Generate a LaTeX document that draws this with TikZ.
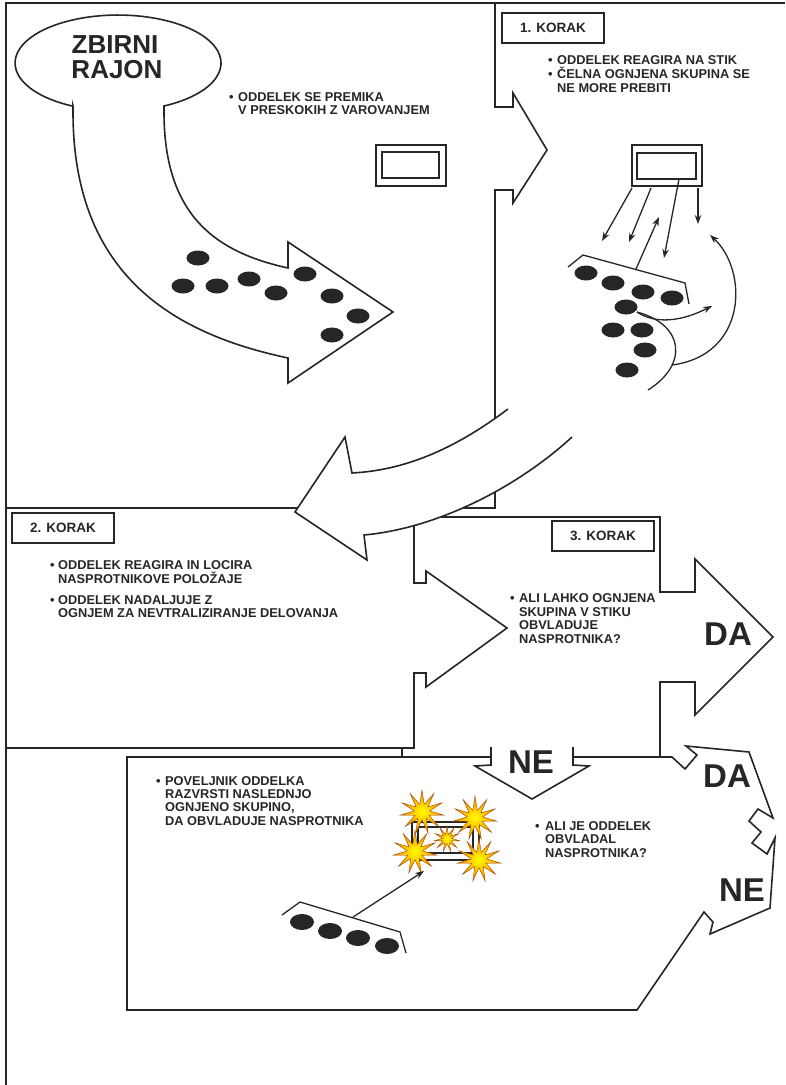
\documentclass[tikz,border=0pt]{standalone}
\usepackage{fontspec}
\setmainfont{Liberation Sans}
\usetikzlibrary{shapes.geometric,arrows.meta}
\definecolor{ink}{HTML}{262626}
\begin{document}
\begin{tikzpicture}[x=1pt,y=-1pt,
  ol/.style={draw=ink, line width=1.6pt, line join=miter},
  tl/.style={font=\bfseries\fontsize{12.8}{14}\selectfont, text=ink, anchor=base west, inner sep=0pt},
  big/.style={font=\bfseries\fontsize{33}{33}\selectfont, text=ink, inner sep=0pt},
  title/.style={font=\bfseries\fontsize{26}{26}\selectfont, text=ink, inner sep=0pt},
  korak/.style={draw=ink, line width=1.8pt, minimum width=102pt, minimum height=30pt, inner sep=0pt, font=\bfseries\fontsize{13.5}{14}\selectfont, text=ink},
  dot/.style={ellipse, fill=ink, minimum width=23pt, minimum height=15pt, inner sep=0pt},
  tgt/.style={draw=ink, line width=2pt, inner sep=0pt},
  arr/.style={draw=ink, line width=1.3pt, -{Stealth[length=9pt,width=6.5pt]}},
  crv/.style={draw=ink, line width=1.3pt},
  boom/.style={star, star points=11, star point ratio=2.8, inner sep=0pt, inner color=yellow, outer color=orange, draw=orange!60!black, line width=0.4pt}
]
\useasboundingbox (0,0) rectangle (785,1085);
\fill[white] (0,0) rectangle (785,1085);

% outer frame
\draw[ol] (6,1085) -- (6,3) -- (785,3);
% panel 1 boundary with arrow into step 1
\draw[ol] (495,3) -- (495,107) -- (513,107) -- (513,93) -- (547,150) -- (513,203) -- (513,190) -- (495,190) -- (495,508) -- (6,508);
% panel 2 / panel 3 boundaries
\draw[ol] (6,748) -- (414,748) -- (414,673) -- (426,673) -- (426,687) -- (507,628) -- (426,571) -- (426,583) -- (414,583) -- (414,517) -- (660,517) -- (660,592) -- (695,592) -- (695,559) -- (773,637) -- (695,715) -- (695,682) -- (660,682) -- (660,757);
\draw[ol] (402,748) -- (402,757);
% NE arrow (down)
\draw[ol] (491,747) -- (491,765) -- (475,766) -- (532,799) -- (589,766) -- (573,765) -- (573,747);
% panel 4 outline
\draw[ol] (491,757) -- (127,757) -- (127,1010) -- (637,1010) -- (704,912) -- (713,922) -- (710,934) -- (770,908) -- (775,838) -- (767,854) -- (752,843) -- (761,832) -- (749,821) -- (758,809) -- (773,818) -- (749,752) -- (686,746) -- (697,755) -- (685,769) -- (672,757) -- (573,757);

% big curved arrow from ZBIRNI RAJON
\draw[ol, fill=white] (73,106) -- (73,112) .. controls (73,280) and (180,335) .. (288,358) -- (288,383) -- (393,312) -- (288,242) -- (288,268) .. controls (215,252) and (164,215) .. (164,112) -- (164,106) arc[start angle=63.5, end angle=-244.1, x radius=103, y radius=48] -- cycle;
\node[title] (zb1) at (115,45) {ZBIRNI};
\node[title] (zb2) at (117,70) {RAJON};

% curved arrow from step 1 to step 2
\fill[white] (508,409) .. controls (460,445) and (410,470) .. (352,473) -- (345,437) -- (295,512) -- (367,560) -- (364,535) .. controls (440,528) and (520,485) .. (572,437) -- cycle;
\draw[ol] (508,409) .. controls (460,445) and (410,470) .. (352,473) -- (345,437) -- (295,512) -- (367,560) -- (364,535) .. controls (440,528) and (520,485) .. (572,437);

% panel 1 dots
\foreach \n/\x/\y in {1/198/258,2/183/286,3/217/286,4/249/279,5/276/293,6/305/274,7/332/296,8/358/316,9/332/335}
  \node[dot] (pa\n) at (\x,\y) {};
% panel 1 target
\node[tgt, minimum width=70pt, minimum height=41pt] (r1o) at (411,165.5) {};
\node[tgt, minimum width=57pt, minimum height=26pt] (r1i) at (410.5,165) {};
% panel 1 text
\node[tl] (b1) at (229,101.5) {•};
\node[tl] (t1a) at (238,101.5) {ODDELEK SE PREMIKA};
\node[tl] (t1b) at (238,114.5) {V PRESKOKIH Z VAROVANJEM};

% step 1
\node[korak] (k1) at (553,28) {1. KORAK};
\node[tl] (b2) at (548,64.5) {•};
\node[tl] (s1a) at (557,64.5) {ODDELEK REAGIRA NA STIK};
\node[tl] (b3) at (548,78.5) {•};
\node[tl] (s1b) at (557,78.5) {ČELNA OGNJENA SKUPINA SE};
\node[tl] (s1c) at (557,92.5) {NE MORE PREBITI};
\node[tgt, minimum width=70pt, minimum height=41pt] (r2o) at (667,165.5) {};
\node[tgt, minimum width=59pt, minimum height=26pt] (r2i) at (666.5,166) {};
\draw[crv] (568,267) -- (583,255) -- (685,283) -- (689,304);
\foreach \n/\x/\y in {1/586/273,2/613/283,3/643/292,4/672/298,5/626/307,6/613/330,7/642/330,8/645/350,9/627/370}
  \node[dot] (pb\n) at (\x,\y) {};
\coordinate (a1s) at (632,188); \coordinate (a1e) at (602,241);
\coordinate (a2s) at (651,188); \coordinate (a2e) at (629,242);
\coordinate (a3s) at (636,269); \coordinate (a3e) at (659,217);
\coordinate (a4s) at (679,179); \coordinate (a4e) at (664,258);
\coordinate (a5s) at (698,188); \coordinate (a5e) at (698,224);
\coordinate (cs) at (637,312); \coordinate (ce) at (712,306);
\coordinate (se) at (648,390); \coordinate (ms) at (672,365); \coordinate (me) at (710,235);
\draw[arr] (a1s) -- (a1e);
\draw[arr] (a2s) -- (a2e);
\draw[arr] (a3s) -- (a3e);
\draw[arr] (a4s) -- (a4e);
\draw[arr] (a5s) -- (a5e);
\draw[arr] (cs) .. controls (655,324) and (680,322) .. (ce);
\draw[crv] (cs) .. controls (685,325) and (688,365) .. (se);
\draw[arr] (ms) .. controls (748,355) and (748,270) .. (me);

% step 2
\node[korak] (k2) at (63,528) {2. KORAK};
\node[tl] (b4) at (50,569.5) {•};
\node[tl] (s2a) at (58,569.5) {ODDELEK REAGIRA IN LOCIRA};
\node[tl] (s2b) at (58,583.5) {NASPROTNIKOVE POLOŽAJE};
\node[tl] (b5) at (50,604.5) {•};
\node[tl] (s2c) at (58,604.5) {ODDELEK NADALJUJE Z};
\node[tl] (s2d) at (58,617.5) {OGNJEM ZA NEVTRALIZIRANJE DELOVANJA};

% step 3
\node[korak] (k3) at (603,536) {3. KORAK};
\node[tl] (b6) at (510,602.5) {•};
\node[tl] (s3a) at (519,602.5) {ALI LAHKO OGNJENA};
\node[tl] (s3b) at (519,616) {SKUPINA V STIKU};
\node[tl] (s3c) at (519,629.5) {OBVLADUJE};
\node[tl] (s3d) at (519,643) {NASPROTNIKA?};
\node[big] (da1) at (728,634) {DA};
\node[big] (ne1) at (531,762) {NE};

% step 4
\node[tl] (b7) at (156,785.5) {•};
\node[tl] (s4a) at (165,785.5) {POVELJNIK ODDELKA};
\node[tl] (s4b) at (165,798.5) {RAZVRSTI NASLEDNJO};
\node[tl] (s4c) at (165,811.5) {OGNJENO SKUPINO,};
\node[tl] (s4d) at (165,825.5) {DA OBVLADUJE NASPROTNIKA};
\node[tl] (b8) at (535,830.5) {•};
\node[tl] (s4e) at (545,830.5) {ALI JE ODDELEK};
\node[tl] (s4f) at (545,843.5) {OBVLADAL};
\node[tl] (s4g) at (545,857.5) {NASPROTNIKA?};
\node[big] (da2) at (727,776) {DA};
\node[big] (ne2) at (742,890) {NE};

\node[tgt, minimum width=67pt, minimum height=38pt] (r3o) at (445.5,841) {};
\node[tgt, minimum width=55pt, minimum height=26pt] (r3i) at (445.5,840) {};
\node[boom, minimum size=44pt] (x1) at (422,812) {};
\node[boom, minimum size=44pt] (x2) at (475,818) {};
\node[boom, minimum size=26pt] (x3) at (447,839) {};
\node[boom, minimum size=44pt] (x4) at (415,852) {};
\node[boom, minimum size=44pt] (x5) at (479,860) {};

\draw[crv] (282,915) -- (300,902) -- (400,932) -- (406,953);
\foreach \n/\x/\y in {1/302/922,2/330/931,3/358/938,4/387/946}
  \node[dot, minimum width=24pt, minimum height=16pt] (pc\n) at (\x,\y) {};
\coordinate (fs) at (353,917); \coordinate (fe) at (424,871);
\draw[arr] (fs) -- (fe);
\end{tikzpicture}
\end{document}
